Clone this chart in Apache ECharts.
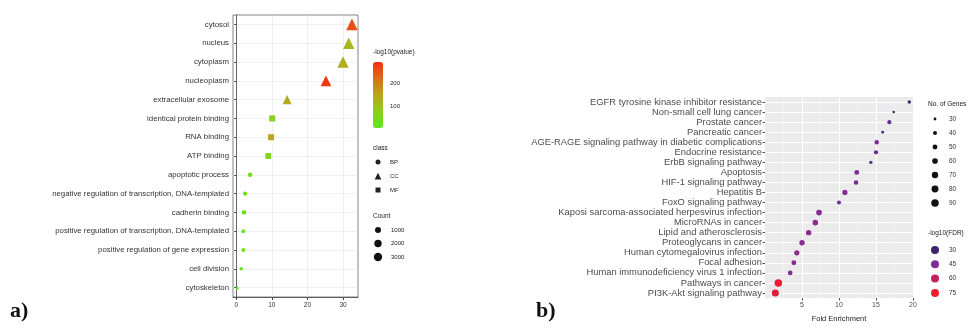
<!DOCTYPE html>
<html><head><meta charset="utf-8">
<script src="https://cdn.jsdelivr.net/npm/echarts@6/dist/echarts.min.js"></script>
<style>html,body{margin:0;padding:0;background:#fff}#c{width:975px;height:328px}</style>
</head><body><div id="c"></div>
<script>
// ---- Panel a: GO enrichment ----
const goTerms = ["cytosol","nucleus","cytoplasm","nucleoplasm","extracellular exosome","identical protein binding","RNA binding","ATP binding","apoptotic process","negative regulation of transcription, DNA-templated","cadherin binding","positive regulation of transcription, DNA-templated","positive regulation of gene expression","cell division","cytoskeleton"];
const goClass = ["CC","CC","CC","CC","CC","MF","MF","MF","BP","BP","MF","BP","BP","BP","CC"];
const goRatio = [32.5, 31.6, 30.0, 25.2, 14.3, 10.1, 9.8, 9.0, 3.9, 2.5, 2.2, 2.0, 2.0, 1.4, 0.3];
const goLogP = [255, 120, 135, 285, 140, 70, 150, 55, 35, 30, 30, 28, 25, 22, 15];
const goCount = [3300, 3150, 3000, 2500, 1450, 1050, 1000, 900, 420, 300, 250, 230, 220, 160, 60];
const goTicks = [0, 10, 20, 30];
const goLogPTicks = [100, 200];
const goClassLevels = ["BP", "CC", "MF"];
const goCountLevels = [1000, 2000, 3000];

// ---- Panel b: KEGG enrichment ----
const keggTerms = ["EGFR tyrosine kinase inhibitor resistance","Non-small cell lung cancer","Prostate cancer","Pancreatic cancer","AGE-RAGE signaling pathway in diabetic complications","Endocrine resistance","ErbB signaling pathway","Apoptosis","HIF-1 signaling pathway","Hepatitis B","FoxO signaling pathway","Kaposi sarcoma-associated herpesvirus infection","MicroRNAs in cancer","Lipid and atherosclerosis","Proteoglycans in cancer","Human cytomegalovirus infection","Focal adhesion","Human immunodeficiency virus 1 infection","Pathways in cancer","PI3K-Akt signaling pathway"];
const keggFold = [19.5, 17.4, 16.8, 15.9, 15.1, 15.0, 14.3, 12.4, 12.3, 10.8, 10.0, 7.3, 6.8, 5.9, 5.0, 4.3, 3.9, 3.4, 1.8, 1.4];
const keggGenes = [36, 28, 40, 30, 44, 42, 34, 50, 46, 54, 40, 60, 58, 56, 55, 54, 50, 48, 90, 82];
const keggLogFDR = [32, 30, 38, 33, 42, 40, 36, 44, 42, 46, 40, 46, 48, 47, 47, 48, 46, 45, 72, 68];
const keggTicks = [5, 10, 15, 20];
const keggGeneLevels = [30, 40, 50, 60, 70, 80, 90];
const keggFdrLevels = [30, 45, 60, 75];

const FONT = '"Liberation Sans", Arial, sans-serif';
const goColors = ['#5ce81a', '#8ccf1d', '#b8a51e', '#d9701a', '#f2300f'];
const goMin = 10, goMax = 290;
const kgColors = ['#33245e', '#6a2f9c', '#a02a88', '#d01f4c', '#f01c2c'];
const kgMin = 28, kgMax = 75;

const shapeOf = {BP: 'circle', CC: 'triangle', MF: 'rect'};
const shapeScale = {BP: 1, CC: 1.35, MF: 1.0};
function goSize(c) { return 6 * Math.pow(c / 1000, 0.3); }
function kgSize(g) { return 7.5 * Math.sqrt(Math.max(g - 20, 3) / 70); }

const chart = echarts.init(document.getElementById('c'), null, {renderer: 'canvas'});

function txt(x, y, s, o) {
  o = o || {};
  return {type: 'text', x: x, y: y, silent: true, style: {
    text: s, fontSize: o.size || 6.5, fontFamily: o.font || FONT, fontWeight: o.weight || 'normal',
    fill: o.fill || '#222', textAlign: o.align || 'left', textVerticalAlign: 'middle'}};
}

const graphics = [];
graphics.push(txt(10, 311, 'a)', {size: 22, weight: 'bold', font: '"Liberation Serif", "DejaVu Serif", serif', fill: '#111'}));
graphics.push(txt(536, 311, 'b)', {size: 22, weight: 'bold', font: '"Liberation Serif", "DejaVu Serif", serif', fill: '#111'}));

// panel a legend
graphics.push(txt(373, 52, '-log10(pvalue)'));
goLogPTicks.forEach(v => {
  const y = 62 + 66 * (1 - (v - goMin) / (goMax - goMin));
  graphics.push(txt(390, y, String(v), {size: 6}));
});
graphics.push(txt(373, 148, 'class'));
goClassLevels.forEach((c, i) => {
  const y = 162 + i * 14;
  const s = 5 * shapeScale[c];
  let shape;
  if (c === 'BP') shape = {type: 'circle', shape: {cx: 378, cy: y, r: s / 2}};
  else if (c === 'CC') shape = {type: 'polygon', shape: {points: [[378, y - s / 2], [378 + s / 2, y + s / 2], [378 - s / 2, y + s / 2]]}};
  else shape = {type: 'rect', shape: {x: 378 - s / 2, y: y - s / 2, width: s, height: s}};
  shape.style = {fill: '#222'}; shape.silent = true;
  graphics.push(shape);
  graphics.push(txt(390, y, c, {size: 6}));
});
graphics.push(txt(373, 216, 'Count'));
goCountLevels.forEach((c, i) => {
  const y = 230 + i * 13.5;
  graphics.push({type: 'circle', silent: true, shape: {cx: 378, cy: y, r: goSize(c) / 2}, style: {fill: '#111'}});
  graphics.push(txt(391, y, String(c), {size: 6}));
});

// panel b legend
graphics.push(txt(928, 104, 'No. of Genes', {size: 6.5}));
keggGeneLevels.forEach((g, i) => {
  const y = 119 + i * 14;
  graphics.push({type: 'circle', silent: true, shape: {cx: 935, cy: y, r: kgSize(g) / 2}, style: {fill: '#111'}});
  graphics.push(txt(949, y, String(g), {size: 6.5, fill: '#333'}));
});
graphics.push(txt(928, 233, '-log10(FDR)', {size: 6.5}));
keggFdrLevels.forEach((v, i) => {
  const y = 250 + i * 14.3;
  const col = echarts.color.lerp(Math.min(1, Math.max(0, (v - kgMin) / (kgMax - kgMin))), kgColors);
  graphics.push({type: 'circle', silent: true, shape: {cx: 935, cy: y, r: 4}, style: {fill: col}});
  graphics.push(txt(949, y, String(v), {size: 6.5, fill: '#333'}));
});

const option = {
  animation: false,
  backgroundColor: '#fff',
  textStyle: {fontFamily: FONT},
  grid: [
    {left: 233, top: 15, width: 125, height: 282, show: true, backgroundColor: '#fff', borderColor: '#666', borderWidth: 0.8, containLabel: false},
    {left: 765, top: 97, width: 148, height: 202, show: true, backgroundColor: '#ebebeb', borderWidth: 0, containLabel: false}
  ],
  xAxis: [
    {type: 'value', gridIndex: 0, min: -0.9, max: 34.2,
      axisLine: {show: true, lineStyle: {color: '#444', width: 0.8}},
      axisTick: {show: true, length: 3, customValues: goTicks, lineStyle: {color: '#444'}},
      axisLabel: {customValues: goTicks, fontSize: 6.5, color: '#333', margin: 5},
      splitLine: {show: true, lineStyle: {color: '#e6e6e6', width: 0.6}}},
    {type: 'value', gridIndex: 1, min: 0, max: 20, interval: 5,
      name: 'Fold Enrichment', nameLocation: 'middle', nameGap: 17, nameTextStyle: {fontSize: 7.5, color: '#222'},
      axisLine: {show: false},
      axisTick: {show: true, length: 2.5, customValues: keggTicks, lineStyle: {color: '#555'}},
      axisLabel: {customValues: keggTicks, fontSize: 7, color: '#4d4d4d', margin: 4},
      splitLine: {show: true, lineStyle: {color: '#fff', width: 1}},
      minorTick: {show: false, splitNumber: 2},
      minorSplitLine: {show: true, lineStyle: {color: '#f6f6f6', width: 0.5}}}
  ],
  yAxis: [
    {type: 'category', gridIndex: 0, data: goTerms, inverse: true,
      axisLine: {show: true, lineStyle: {color: '#444', width: 0.8}},
      axisTick: {show: true, length: 2, alignWithLabel: true, interval: 0, lineStyle: {color: '#444'}},
      axisLabel: {fontSize: 7.8, color: '#333', margin: 4, interval: 0},
      splitLine: {show: true, alignWithLabel: true, interval: 0, lineStyle: {color: '#e6e6e6', width: 0.6}}},
    {type: 'category', gridIndex: 1, data: keggTerms, inverse: true,
      axisLine: {show: false},
      axisTick: {show: true, length: 2.5, alignWithLabel: true, interval: 0, lineStyle: {color: '#555'}},
      axisLabel: {fontSize: 9.4, color: '#4d4d4d', margin: 3, interval: 0},
      splitLine: {show: true, alignWithLabel: true, interval: 0, lineStyle: {color: '#fff', width: 1}}}
  ],
  visualMap: [
    {type: 'continuous', seriesIndex: 0, dimension: 2, min: goMin, max: goMax,
      inRange: {color: goColors}, left: 373, top: 62, itemWidth: 10, itemHeight: 66,
      padding: 0, text: null, calculable: false, hoverLink: false, showLabel: false, realtime: false},
    {type: 'continuous', seriesIndex: 1, dimension: 2, min: kgMin, max: kgMax,
      inRange: {color: kgColors}, show: false}
  ],
  series: [
    {type: 'scatter', xAxisIndex: 0, yAxisIndex: 0,
      data: goTerms.map((t, i) => ({
        value: [goRatio[i], i, goLogP[i], goCount[i]],
        symbol: shapeOf[goClass[i]],
        symbolSize: goSize(goCount[i]) * shapeScale[goClass[i]]
      })),
      itemStyle: {opacity: 1}},
    {type: 'scatter', xAxisIndex: 1, yAxisIndex: 1,
      data: keggTerms.map((t, i) => ({
        value: [keggFold[i], i, keggLogFDR[i], keggGenes[i]],
        symbolSize: kgSize(keggGenes[i])
      })),
      itemStyle: {opacity: 1}}
  ],
  graphic: graphics
};
chart.setOption(option);
</script>
</body></html>
